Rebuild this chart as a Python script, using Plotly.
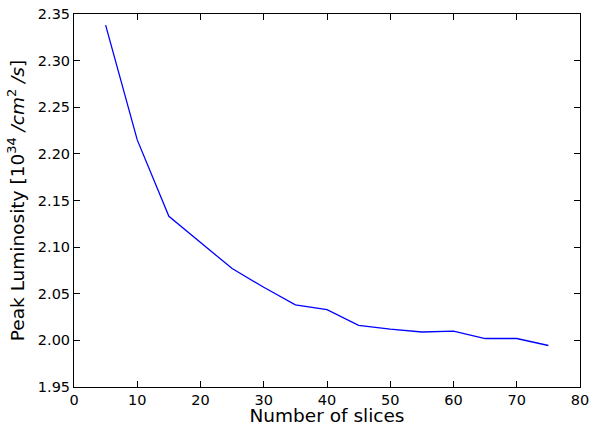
import plotly.graph_objects as go

slices = [5, 10, 15, 20, 25, 30, 35, 40, 45, 50, 55, 60, 65, 70, 75]
luminosity = [2.338, 2.215, 2.133, 2.105, 2.077, 2.057, 2.038, 2.033, 2.016, 2.012, 2.009, 2.010, 2.002, 2.002, 1.9945]
x_ticks = [0, 10, 20, 30, 40, 50, 60, 70, 80]
y_ticks = [1.95, 2.00, 2.05, 2.10, 2.15, 2.20, 2.25, 2.30, 2.35]

fig = go.Figure()
fig.add_trace(go.Scatter(x=slices, y=luminosity, mode="lines",
                         line=dict(color="#0000ff", width=1.3), showlegend=False))

axis_common = dict(showgrid=False, zeroline=False, showline=True, linecolor="black",
                   linewidth=1, mirror="allticks", ticks="inside", ticklen=6,
                   tickcolor="black", tickwidth=1, automargin=False,
                   tickfont=dict(family="DejaVu Sans", size=14.5, color="black"))

fig.update_xaxes(range=[0, 80], tickvals=x_ticks, ticktext=[str(v) for v in x_ticks],
                 title=dict(text="Number of slices", font=dict(family="DejaVu Sans", size=18.5, color="black"), standoff=3),
                 **axis_common)
fig.update_yaxes(range=[1.95, 2.35], tickvals=y_ticks, ticktext=[f"{v:.2f}" for v in y_ticks],
                 title=dict(text="Peak Luminosity [10<sup>34</sup> <i>/cm</i><sup>2</sup> <i>/s</i>]",
                            font=dict(family="DejaVu Sans", size=18.5, color="black"), standoff=8),
                 **axis_common)

fig.update_layout(width=593, height=426, paper_bgcolor="white", plot_bgcolor="white",
                  margin=dict(l=74, r=13, t=14, b=39, pad=0))

fig.write_html("out.html", config={"displayModeBar": False},
               post_script="document.body.style.margin='0px';document.body.style.overflow='hidden';")
